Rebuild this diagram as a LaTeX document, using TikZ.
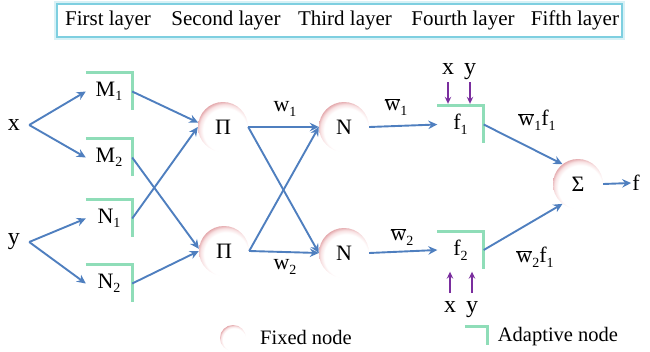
\documentclass[tikz,border=0pt]{standalone}
\usepackage{fontspec}
\setmainfont{Liberation Serif}
\usetikzlibrary{arrows.meta}

\definecolor{linkblue}{HTML}{4F7FBF}
\definecolor{inpurple}{HTML}{7A2E9E}
\definecolor{adaptgreen}{HTML}{8FDDB8}
\definecolor{rimpink}{HTML}{E2A4A8}
\definecolor{rimpinklight}{HTML}{F8E2E3}
\definecolor{headcyan}{HTML}{7ECFE0}

% sphere-like rim: pink on the upper-left edge, white elsewhere
\pgfdeclareradialshading{fixedball}{\pgfpoint{4bp}{-6bp}}{%
  color(0bp)=(white); color(22bp)=(white); color(25.5bp)=(rimpinklight);
  color(28.5bp)=(rimpink); color(50bp)=(rimpink)}

\newcommand\lsub[1]{\raisebox{-0.45ex}{\fontsize{14}{14}\selectfont #1}}
\newcommand\wbar{$\overline{\mbox{w}}$}

\begin{document}
\begin{tikzpicture}[x=1pt,y=-1pt,
  font=\fontsize{22}{24}\selectfont,
  link/.style={draw=linkblue, line width=1.9pt,
    -{Stealth[length=9pt,width=8.5pt,inset=3pt]}},
  inarrow/.style={draw=inpurple, line width=1.5pt,
    -{Stealth[length=7pt,width=6.5pt,inset=2.5pt]}},
  fixednode/.style={circle, minimum size=50pt, inner sep=0pt, shade, shading=fixedball},
  adaptnode/.style={rectangle, minimum width=46pt, minimum height=37pt, inner sep=0pt},
  bracket/.style={draw=adaptgreen, line width=3.2pt},
  headbox/.style={draw=headcyan, line width=1.8pt, fill=white, inner sep=0pt,
    minimum width=565pt, minimum height=33pt,
    preaction={draw=headcyan!30, line width=6pt}},
  headtext/.style={font=\fontsize{21}{22}\selectfont},
  legtext/.style={font=\fontsize{20.5}{22}\selectfont},
  plain/.style={inner sep=1pt}]
\useasboundingbox (0,0) rectangle (650,351);

% layer header
\node[headbox] (hdr) at (339.5,20.5) {};
\node[headtext] (l1) at (108,20) {First layer};
\node[headtext] (l2) at (226,20) {Second layer};
\node[headtext] (l3) at (345,20) {Third layer};
\node[headtext] (l4) at (463,20) {Fourth layer};
\node[headtext] (l5) at (575,20) {Fifth layer};

% inputs
\node[plain, inner xsep=9pt, font=\fontsize{24}{26}\selectfont] (x) at (14,125) {x};
\node[plain, inner xsep=9pt, font=\fontsize{24}{26}\selectfont] (y) at (14,242) {y};

% first layer (adaptive)
\node[adaptnode] (m1) at (109,91.5) {M\lsub{1}};
\node[adaptnode] (m2) at (109,157.5) {M\lsub{2}};
\node[adaptnode] (n1) at (109,218.5) {N\lsub{1}};
\node[adaptnode] (n2) at (109,283.5) {N\lsub{2}};
\foreach \b in {m1,m2,n1,n2}
  \draw[bracket] (\b.north west) -- (\b.north east) -- (\b.south east);

% second and third layers (fixed)
\node[fixednode] (p1) at (223,127) {Π};
\node[fixednode] (p2) at (224,251) {Π};
\node[fixednode] (c1) at (344,127) {N};
\node[fixednode] (c2) at (344,253) {N};

% fourth layer (adaptive)
\node[adaptnode] (f1) at (460.5,124.5) {f\lsub{1}};
\node[adaptnode] (f2) at (460.5,250) {f\lsub{2}};
\foreach \b in {f1,f2}
  \draw[bracket] (\b.north west) -- (\b.north east) -- (\b.south east);

% fifth layer and output
\node[fixednode] (s) at (578,184) {Σ};
\node[plain] (f) at (636,183) {f};

% connectors
\draw[link] (x.east) -- (m1.west);
\draw[link] (x.east) -- (m2.west);
\draw[link] (y.east) -- (n1.west);
\draw[link] (y.east) -- (n2.west);

\draw[link] (m1.east) -- (p1.170);
\draw[link] (n1.east) -- (p1.west);
\draw[link] (m2.east) -- (p2.175);
\draw[link] (n2.east) -- (p2.west);

\draw[link] (p1.east) -- (c1.west);
\draw[link] (p1.east) -- (c2.west);
\draw[link] (p2.east) -- (c2.west);
\draw[link] (p2.east) -- (c1.west);

\draw[link] (c1.east) -- (f1.west);
\draw[link] (c2.east) -- (f2.west);

\draw[link] (f1.east) -- (s.128);
\draw[link] (f2.east) -- (s.232);
\draw[link] (s.east) -- (f.west);

% weight labels
\node[plain] (w1) at (285,109) {w\lsub{1}};
\node[plain] (w2) at (285,267) {w\lsub{2}};
\node[plain] (wb1) at (396,107) {\wbar\lsub{1}};
\node[plain] (wb2) at (402,237) {\wbar\lsub{2}};
\node[plain] (wf1) at (537,120) {\wbar\lsub{1}f\lsub{1}};
\node[plain] (wf2) at (535,257) {\wbar\lsub{2}f\lsub{1}};

% consequent inputs x, y
\node[plain, anchor=base, font=\fontsize{24}{26}\selectfont] (xa) at (448,74) {x};
\node[plain, anchor=base, font=\fontsize{24}{26}\selectfont] (ya) at (470,74) {y};
\coordinate (xat) at (448,82);
\coordinate (yat) at (470,82);
\draw[inarrow, shorten >=2pt] (xat) -- (xat |- f1.north);
\draw[inarrow, shorten >=2pt] (yat) -- (yat |- f1.north);

\node[plain, anchor=base, font=\fontsize{24}{26}\selectfont] (xb) at (450,312) {x};
\node[plain, anchor=base, font=\fontsize{24}{26}\selectfont] (yb) at (472,312) {y};
\coordinate (xbt) at (450,293);
\coordinate (ybt) at (472,293);
\draw[inarrow, shorten >=3pt] (xbt) -- (xbt |- f2.south);
\draw[inarrow, shorten >=3pt] (ybt) -- (ybt |- f2.south);

% legend
\node[fixednode, minimum size=26pt] (lf) at (233,338) {};
\node[legtext] (lft) at (306,337) {Fixed node};
\node[adaptnode, minimum width=22pt, minimum height=18pt] (la) at (476,336) {};
\draw[bracket] (la.north west) -- (la.north east) -- (la.south east);
\node[legtext] (lat) at (558,337) {Adaptive node};
\end{tikzpicture}
\end{document}
